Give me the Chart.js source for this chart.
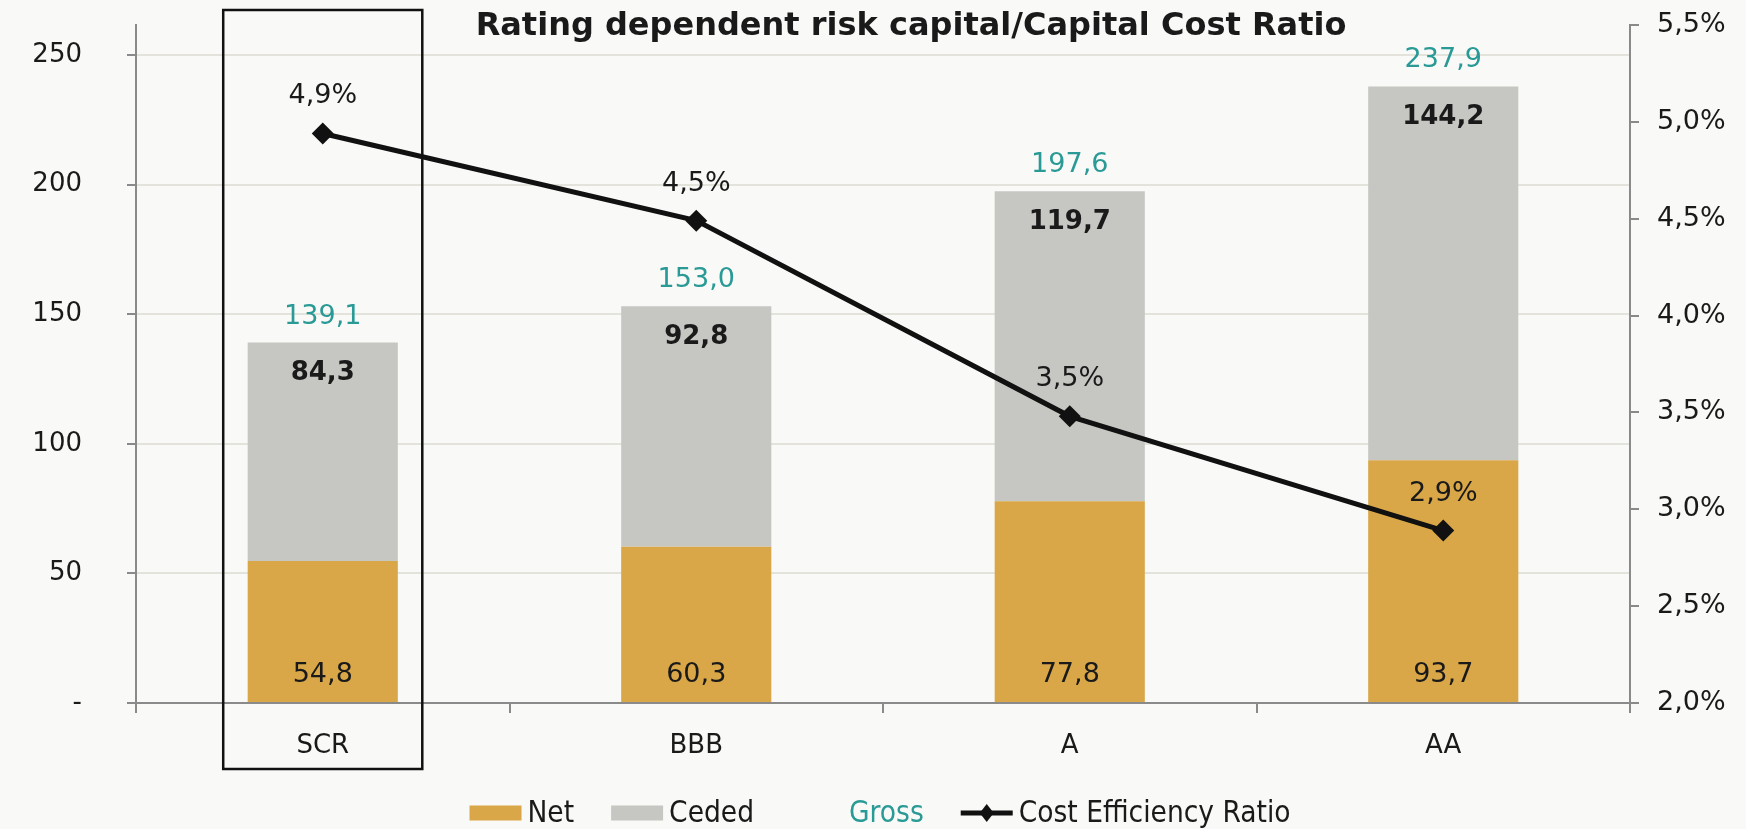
<!DOCTYPE html>
<html>
<head>
<meta charset="utf-8">
<title>Rating dependent risk capital</title>
<script src="https://cdn.jsdelivr.net/npm/chart.js@4/dist/chart.umd.min.js"></script>
<style>
  body { margin: 0; background: #f9f9f7; }
  #wrap { width: 1746px; height: 829px; }
</style>
</head>
<body>
<div id="wrap"><canvas id="riskChart" width="1746" height="829"></canvas></div>
<script>
const ratings = ["SCR", "BBB", "A", "AA"];
const netValues = [54.8, 60.3, 77.8, 93.7];
const cededValues = [84.3, 92.8, 119.7, 144.2];
const grossValues = [139.1, 153.0, 197.6, 237.9];
const costRatio = [4.94, 4.49, 3.48, 2.89];
const leftTicks = [0, 50, 100, 150, 200, 250];

const TEXT = "#1a1a1a";
const AXIS = "#8a8a8a";
const TEAL = "#2a9a96";
const GOLD = "#d9a747";
const GREY = "#c6c7c2";

Chart.defaults.font.family = "'DejaVu Sans', Verdana, sans-serif";
Chart.defaults.font.size = 26;
Chart.defaults.color = TEXT;

function fmt(v, digits) {
  return v.toFixed(digits).replace(".", ",");
}

// no extra room for half tick labels, the plot area is placed by hand
function fixY(width) {
  return s => {
    s.width = width;
    s.paddingTop = 0;
    s.paddingBottom = 0;
  };
}

// value labels, SCR frame, title and legend
const decorations = {
  id: "decorations",
  afterDatasetsDraw(chart) {
    const ctx = chart.ctx;
    const net = chart.getDatasetMeta(0).data;
    const ceded = chart.getDatasetMeta(1).data;
    const line = chart.getDatasetMeta(2).data;
    ctx.save();
    ctx.textAlign = "center";
    ctx.textBaseline = "middle";
    ratings.forEach((r, i) => {
      ctx.font = "27px 'DejaVu Sans'";
      ctx.fillStyle = TEXT;
      ctx.fillText(fmt(netValues[i], 1), net[i].x, net[i].base - 27);

      ctx.font = "bold 26px 'DejaVu Sans'";
      ctx.fillText(fmt(cededValues[i], 1), ceded[i].x, ceded[i].y + 31);

      ctx.font = "27px 'DejaVu Sans'";
      ctx.fillStyle = TEAL;
      ctx.fillText(fmt(grossValues[i], 1), ceded[i].x, ceded[i].y - 26);

      ctx.fillStyle = TEXT;
      ctx.fillText(fmt(costRatio[i], 1) + "%", line[i].x, line[i].y - 37);
    });
    ctx.restore();
  },
  afterDraw(chart) {
    const ctx = chart.ctx;
    const area = chart.chartArea;
    const x = chart.scales.x;
    ctx.save();

    // frame around SCR
    const catW = (area.right - area.left) / ratings.length;
    const cx = x.getPixelForValue(0);
    ctx.strokeStyle = "#111";
    ctx.lineWidth = 2.5;
    ctx.strokeRect(cx - catW * 0.2665, area.top - 15, catW * 0.533, area.bottom - area.top + 81);

    // title
    ctx.fillStyle = TEXT;
    ctx.font = "bold 32px 'DejaVu Sans'";
    ctx.textAlign = "center";
    ctx.textBaseline = "alphabetic";
    ctx.fillText("Rating dependent risk capital/Capital Cost Ratio", (area.left + area.right) / 2 + 28, 35);

    // legend
    const items = [
      { text: "Net", kind: "box", color: GOLD },
      { text: "Ceded", kind: "box", color: GREY },
      { text: "Gross", kind: "none", color: TEAL },
      { text: "Cost Efficiency Ratio", kind: "line", color: "#111" }
    ];
    ctx.font = "29.5px 'DejaVu Sans Condensed', 'DejaVu Sans'";
    const sym = 52, gap = 6, spacing = 37;
    let total = 0;
    items.forEach(it => {
      it.w = ctx.measureText(it.text).width;
      total += sym + gap + it.w;
    });
    total += spacing * (items.length - 1);
    let lx = (area.left + area.right) / 2 - 3 - total / 2;
    const ly = 813;
    ctx.textAlign = "left";
    ctx.textBaseline = "middle";
    items.forEach(it => {
      if (it.kind === "box") {
        ctx.fillStyle = it.color;
        ctx.fillRect(lx, ly - 7.5, sym, 15);
      } else if (it.kind === "line") {
        ctx.strokeStyle = it.color;
        ctx.lineWidth = 5;
        ctx.beginPath();
        ctx.moveTo(lx, ly);
        ctx.lineTo(lx + sym, ly);
        ctx.stroke();
        ctx.fillStyle = it.color;
        ctx.beginPath();
        ctx.moveTo(lx + sym / 2, ly - 9);
        ctx.lineTo(lx + sym / 2 + 7, ly);
        ctx.lineTo(lx + sym / 2, ly + 9);
        ctx.lineTo(lx + sym / 2 - 7, ly);
        ctx.closePath();
        ctx.fill();
      }
      ctx.fillStyle = it.kind === "none" ? TEAL : TEXT;
      ctx.fillText(it.text, lx + sym + gap, ly + 1);
      lx += sym + gap + it.w + spacing;
    });
    ctx.restore();
  }
};

const bg = {
  id: "bg",
  beforeDraw(chart) {
    const ctx = chart.ctx;
    ctx.save();
    ctx.fillStyle = "#f9f9f7";
    ctx.fillRect(0, 0, chart.width, chart.height);
    ctx.restore();
  }
};

new Chart(document.getElementById("riskChart"), {
  data: {
    labels: ratings,
    datasets: [
      {
        type: "bar",
        label: "Net",
        data: netValues,
        backgroundColor: GOLD,
        yAxisID: "y",
        order: 2,
        barPercentage: 0.402,
        categoryPercentage: 1
      },
      {
        type: "bar",
        label: "Ceded",
        data: cededValues,
        backgroundColor: GREY,
        yAxisID: "y",
        order: 2,
        barPercentage: 0.402,
        categoryPercentage: 1
      },
      {
        type: "line",
        label: "Cost Efficiency Ratio",
        data: costRatio,
        yAxisID: "y2",
        borderColor: "#111",
        backgroundColor: "#111",
        borderWidth: 5,
        pointStyle: "rectRot",
        pointRadius: 11,
        pointBorderWidth: 0,
        pointBackgroundColor: "#111",
        tension: 0,
        order: 0
      }
    ]
  },
  options: {
    responsive: false,
    animation: false,
    layout: { padding: { top: 25, left: 0, right: 0, bottom: 0 } },
    plugins: {
      legend: { display: false },
      tooltip: { enabled: false }
    },
    scales: {
      x: {
        stacked: true,
        grid: {
          offset: true,
          drawOnChartArea: false,
          tickLength: 10,
          tickColor: AXIS,
          lineWidth: 2
        },
        border: { color: AXIS, width: 2 },
        ticks: { padding: 18, color: TEXT },
        afterFit: s => {
          s.height = 126;
          s.paddingLeft = 0;
          s.paddingRight = 0;
        }
      },
      y: {
        stacked: true,
        position: "left",
        min: 0,
        max: 261.6,
        afterBuildTicks: s => { s.ticks = leftTicks.map(v => ({ value: v })); },
        grid: {
          color: "#e3e3dc",
          lineWidth: 2,
          tickLength: 9,
          tickColor: AXIS
        },
        border: { color: AXIS, width: 2 },
        ticks: {
          padding: 45,
          color: TEXT,
          callback: v => (v === 0 ? "-" : v)
        },
        afterFit: fixY(136)
      },
      y2: {
        position: "right",
        min: 2,
        max: 5.5,
        ticks: {
          stepSize: 0.5,
          padding: 18,
          color: TEXT,
          font: { size: 27 },
          callback: v => fmt(v, 1) + "%"
        },
        grid: {
          drawOnChartArea: false,
          tickLength: 9,
          tickColor: AXIS,
          lineWidth: 2
        },
        border: { color: AXIS, width: 2 },
        afterFit: fixY(116)
      }
    }
  },
  plugins: [bg, decorations]
});
</script>
</body>
</html>
